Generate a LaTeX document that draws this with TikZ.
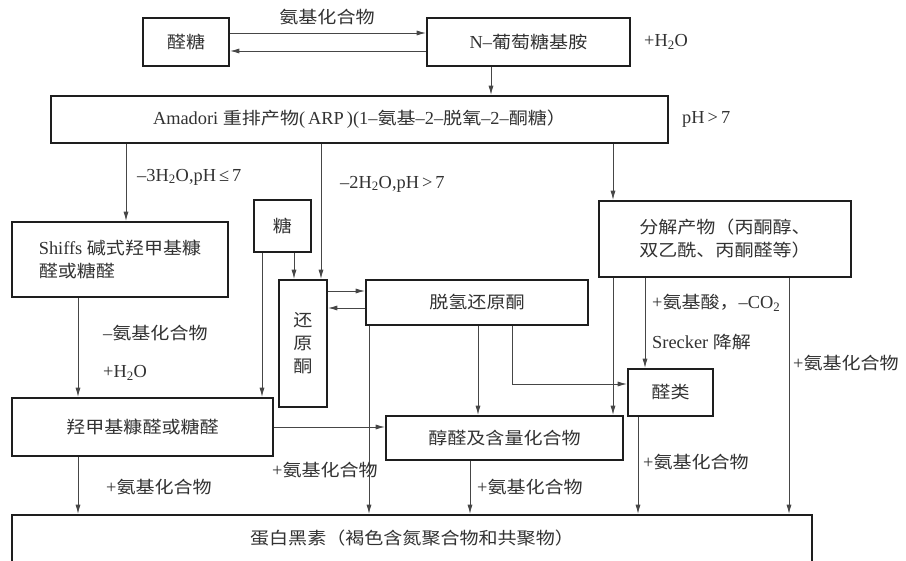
\documentclass[tikz,border=0pt]{standalone}
\usepackage{fontspec}
\setmainfont[Scale=1.08]{Liberation Serif}
\newfontfamily\zhfont[FakeStretch=1.12]{Noto Sans CJK SC}
\newcommand\zh[1]{{\zhfont #1}}
\newcommand\sub[1]{\textsubscript{#1}}
\usetikzlibrary{arrows.meta}
\definecolor{txtc}{RGB}{50,50,50}
\definecolor{linec}{RGB}{70,70,70}
\definecolor{boxc}{RGB}{30,30,30}
\begin{document}
\begin{tikzpicture}[x=1pt,y=-1pt,
  box/.style={draw=boxc, line width=2.6pt, rectangle, inner sep=0pt, text=txtc, font=\fontsize{17}{23}\selectfont},
  lbl/.style={inner sep=0pt, text=txtc, font=\fontsize{17}{23}\selectfont, anchor=west},
  arr/.style={draw=linec, line width=0.7pt, -{Latex[length=9pt,width=5pt]}},
  ln/.style={draw=linec, line width=0.7pt}]
\useasboundingbox[fill=white] (0,0) rectangle (906,561);

% boxes
\node[box, minimum width=86pt, minimum height=48pt] (aldose) at (186,42) {\zh{醛糖}};
\node[box, minimum width=203pt, minimum height=48pt] (glyc) at (528.5,42) {N–\zh{葡萄糖基胺}};
\node[box, minimum width=617pt, minimum height=47pt] (amadori) at (359.5,119.5) {Amadori \zh{重排产物}(\,ARP\,)(1–\zh{氨基}–2–\zh{脱氧}–2–\zh{酮糖）}};
\node[box, minimum width=216pt, minimum height=75pt, align=left] (shiffs) at (120,259.5) {Shiffs \zh{碱式羟甲基糠}\\\zh{醛或糖醛}};
\node[box, minimum width=57pt, minimum height=52pt] (tang) at (282.5,226) {\zh{糖}};
\node[box, minimum width=48pt, minimum height=127pt, align=center] (huanyuan) at (303,343.5) {\zh{还}\\\zh{原}\\\zh{酮}};
\node[box, minimum width=222pt, minimum height=45pt] (tuoqing) at (477,302.5) {\zh{脱氢还原酮}};
\node[box, minimum width=252pt, minimum height=76pt, align=left] (fenjie) at (725,239) {\zh{分解产物（丙酮醇、}\\\zh{双乙酰、丙酮醛等）}};
\node[box, minimum width=85pt, minimum height=47pt] (quanlei) at (670.5,392.5) {\zh{醛类}};
\node[box, minimum width=261pt, minimum height=58pt] (hydroxy) at (142.5,427) {\zh{羟甲基糠醛或糖醛}};
\node[box, minimum width=237pt, minimum height=44pt] (chunquan) at (504.5,438) {\zh{醇醛及含量化合物}};
\node[box, minimum width=800pt, minimum height=60pt] (melanoid) at (412,545) {};
\node[lbl, anchor=center] (melanoidtxt) at (412,538) {\zh{蛋白黑素（褐色含氮聚合物和共聚物）}};

% labels
\node[lbl, anchor=center] (l1) at (327,17) {\zh{氨基化合物}};
\node[lbl] (l2) at (644,42) {+H\sub{2}O};
\node[lbl] (l3) at (682,119) {pH\,>\,7};
\node[lbl] (l4) at (137,177) {–3H\sub{2}O,pH\,≤\,7};
\node[lbl] (l5) at (340,184) {–2H\sub{2}O,pH\,>\,7};
\node[lbl] (l6) at (103,333) {–\zh{氨基化合物}};
\node[lbl] (l7) at (103,373) {+H\sub{2}O};
\node[lbl] (l8) at (106,487) {+\zh{氨基化合物}};
\node[lbl] (l9) at (272,470) {+\zh{氨基化合物}};
\node[lbl] (l10) at (477,487) {+\zh{氨基化合物}};
\node[lbl] (l11) at (643,462) {+\zh{氨基化合物}};
\node[lbl] (l12) at (652,303) {+\zh{氨基酸，}–CO\sub{2}};
\node[lbl] (l13) at (652,342) {Srecker \zh{降解}};
\node[lbl] (l14) at (793,363) {+\zh{氨基化合物}};

% connectors
\draw[arr] (aldose.east |- 0,33) -- (glyc.west |- 0,33);
\draw[arr] (glyc.west |- 0,51) -- (aldose.east |- 0,51);
\draw[arr] (glyc.south -| 491,0) -- (amadori.north -| 491,0);
\draw[arr] (amadori.south -| 126,0) -- (shiffs.north -| 126,0);
\draw[arr] (amadori.south -| 321,0) -- (huanyuan.north -| 321,0);
\draw[arr] (amadori.south -| 613,0) -- (fenjie.north -| 613,0);
\draw[arr] (tang.south -| 294,0) -- (huanyuan.north -| 294,0);
\draw[arr] (tang.south -| 262,0) -- (hydroxy.north -| 262,0);
\draw[arr] (huanyuan.east |- 0,291) -- (tuoqing.west |- 0,291);
\draw[arr] (tuoqing.west |- 0,308) -- (huanyuan.east |- 0,308);
\draw[arr] (shiffs.south -| 78,0) -- (hydroxy.north -| 78,0);
\draw[arr] (hydroxy.south -| 78,0) -- (melanoid.north -| 78,0);
\draw[arr] (hydroxy.east |- 0,427) -- (chunquan.west |- 0,427);
\draw[arr] (tuoqing.south -| 369,0) -- (melanoid.north -| 369,0);
\draw[arr] (tuoqing.south -| 478,0) -- (chunquan.north -| 478,0);
\draw[arr] (tuoqing.south -| 512,0) |- (quanlei.west |- 0,384);
\draw[arr] (fenjie.south -| 613,0) -- (chunquan.north -| 613,0);
\draw[arr] (fenjie.south -| 645,0) -- (quanlei.north -| 645,0);
\draw[arr] (fenjie.south -| 789,0) -- (melanoid.north -| 789,0);
\draw[arr] (quanlei.south -| 638,0) -- (melanoid.north -| 638,0);
\draw[arr] (chunquan.south -| 470,0) -- (melanoid.north -| 470,0);
\end{tikzpicture}
\end{document}
